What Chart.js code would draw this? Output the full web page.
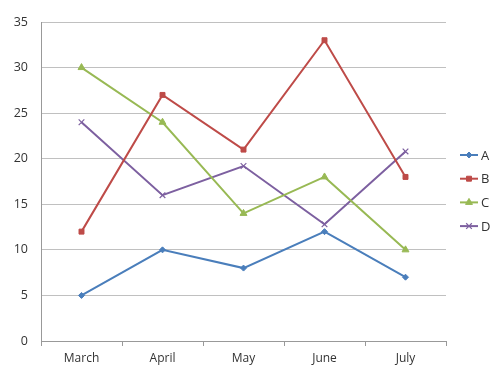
<!DOCTYPE html>
<html><head><meta charset="utf-8">
<script src="https://cdn.jsdelivr.net/npm/chart.js@4"></script>
<style>html,body{margin:0;padding:0;background:#fff}#wrap{width:500px;height:380px}</style>
</head><body><div id="wrap"><canvas id="c" width="500" height="380"></canvas></div>
<script>
const categories = ["March", "April", "May", "June", "July"];
const seriesNames = ["A", "B", "C", "D"];
const seriesA = [5, 10, 8, 12, 7];
const seriesB = [12, 27, 21, 33, 18];
const seriesC = [30, 24, 14, 18, 10];
const seriesD = [24, 16, 19.2, 12.8, 20.8];
const yTicks = [0, 5, 10, 15, 20, 25, 30, 35];

const colors = ["#4A7EBB", "#BE4B48", "#98B954", "#7D60A0"];
const styles = ["rectRot", "rect", "triangle", "crossRot"];
const radii = [3, 3.5, 4, 4];
const allSeries = [seriesA, seriesB, seriesC, seriesD];
const FONT = "'Open Sans', sans-serif";

const legendPlugin = {
  id: 'sideLegend',
  afterDraw(chart) {
    const ctx = chart.ctx;
    chart.data.datasets.forEach((ds, i) => {
      const y = 155 + i * 23.7;
      ctx.save();
      ctx.strokeStyle = ds.borderColor;
      ctx.lineWidth = 2;
      ctx.beginPath(); ctx.moveTo(460, y); ctx.lineTo(478, y); ctx.stroke();
      ctx.fillStyle = ds.borderColor;
      ctx.lineWidth = ds.pointStyle === 'crossRot' ? 1.2 : 1;
      Chart.helpers.drawPoint(ctx, {pointStyle: ds.pointStyle, radius: ds.pointRadius, rotation: 0, borderWidth: 1}, 469, y);
      ctx.fillStyle = '#333';
      ctx.font = "13px " + FONT;
      ctx.textBaseline = 'middle';
      ctx.textAlign = 'left';
      ctx.fillText(ds.label, 481, y + 1);
      ctx.restore();
    });
  }
};

new Chart(document.getElementById('c'), {
  type: 'line',
  data: {
    labels: categories,
    datasets: allSeries.map((d, i) => ({
      label: seriesNames[i],
      data: d,
      borderColor: colors[i],
      backgroundColor: colors[i],
      pointBackgroundColor: colors[i],
      pointBorderColor: colors[i],
      pointStyle: styles[i],
      pointRadius: radii[i],
      pointBorderWidth: i === 3 ? 1.2 : 1,
      borderWidth: 2,
      tension: 0,
      fill: false
    }))
  },
  options: {
    responsive: false,
    animation: false,
    devicePixelRatio: 1,
    layout: { padding: { left: 0, right: 54, top: 22, bottom: 0 } },
    plugins: { legend: { display: false }, tooltip: { enabled: false } },
    scales: {
      x: {
        offset: true,
        grid: { display: true, offset: true, drawOnChartArea: false, tickLength: 5, color: '#999' },
        border: { color: '#999', width: 1 },
        ticks: { color: '#333', font: { family: FONT, size: 12 }, padding: 5, maxRotation: 0 },
        afterFit(s) { s.height = 39; }
      },
      y: {
        min: 0, max: 35,
        afterBuildTicks(s) { s.ticks = yTicks.map(v => ({ value: v })); },
        grid: { color: '#c0c0c0', tickLength: 0, lineWidth: 1 },
        border: { color: '#999', width: 1 },
        ticks: { color: '#333', font: { family: FONT, size: 12.5 }, padding: 13 },
        afterFit(s) { s.width = 41; }
      }
    }
  },
  plugins: [legendPlugin]
});
</script></body></html>
